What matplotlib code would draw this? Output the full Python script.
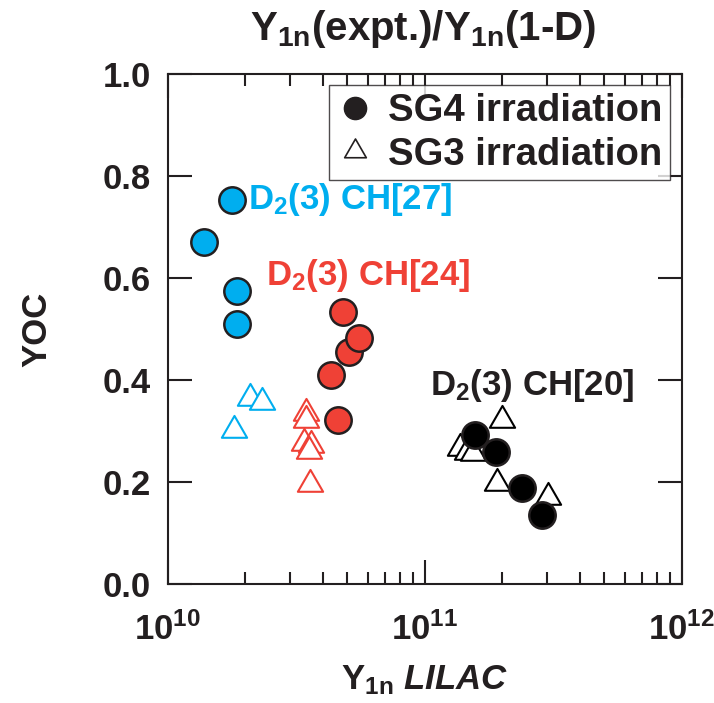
import matplotlib as mpl
import matplotlib.pyplot as plt
from matplotlib.path import Path
from matplotlib.lines import Line2D

mpl.rcParams['font.family'] = 'Liberation Sans'
mpl.rcParams['font.weight'] = 'bold'
mpl.rcParams['mathtext.fontset'] = 'custom'
mpl.rcParams['mathtext.rm'] = 'Liberation Sans:bold'
mpl.rcParams['mathtext.bf'] = 'Liberation Sans:bold'
mpl.rcParams['mathtext.it'] = 'Liberation Sans:italic:bold'

# CH[27] (blue)
ch27_sg4_x = [1.78e10, 1.38e10, 1.86e10, 1.86e10]
ch27_sg4_y = [0.753, 0.670, 0.575, 0.510]
ch27_sg3_x = [2.08e10, 2.32e10, 1.81e10]
ch27_sg3_y = [0.364, 0.357, 0.302]

# CH[24] (red)
ch24_sg4_x = [4.81e10, 5.08e10, 5.55e10, 4.31e10, 4.60e10]
ch24_sg4_y = [0.534, 0.454, 0.483, 0.410, 0.322]
ch24_sg3_x = [3.44e10, 3.46e10, 3.38e10, 3.62e10, 3.54e10, 3.59e10]
ch24_sg3_y = [0.335, 0.322, 0.277, 0.273, 0.261, 0.197]

# CH[20] (black)
ch20_sg4_x = [1.57e11, 1.89e11, 2.38e11, 2.85e11]
ch20_sg4_y = [0.292, 0.259, 0.188, 0.135]
ch20_sg3_x = [2.00e11, 1.37e11, 1.46e11, 1.54e11, 1.91e11, 3.01e11]
ch20_sg3_y = [0.322, 0.267, 0.259, 0.257, 0.198, 0.171]

blue = '#00AEEF'
red = '#EF4136'
ink = '#231F20'

# equilateral triangle marker
tri = Path([(0, 1), (-0.866, -0.5), (0.866, -0.5), (0, 1)], closed=True)

fig = plt.figure(figsize=(7.14, 7.03), dpi=100)
ax = fig.add_axes([0.235, 0.169, 0.72, 0.726])

groups = [
    (ch27_sg3_x, ch27_sg3_y, ch27_sg4_x, ch27_sg4_y, blue),
    (ch24_sg3_x, ch24_sg3_y, ch24_sg4_x, ch24_sg4_y, red),
    (ch20_sg3_x, ch20_sg3_y, ch20_sg4_x, ch20_sg4_y, 'black'),
]
for x3, y3, x4, y4, c in groups:
    ax.plot(x3, y3, linestyle='none', marker=tri, ms=21, mfc='white',
            mec=c, mew=1.5)
    ax.plot(x4, y4, linestyle='none', marker='o', ms=19, mfc=c,
            mec=ink, mew=1.8)

ax.set_xscale('log')
ax.set_xlim(1e10, 1e12)
ax.set_ylim(0, 1)
ax.set_xticks([1e10, 1e11, 1e12])
ax.set_xticklabels([r'$\mathbf{10^{10}}$', r'$\mathbf{10^{11}}$', r'$\mathbf{10^{12}}$'])
ax.set_yticks([0, 0.2, 0.4, 0.6, 0.8, 1.0])
ax.set_yticklabels(['0.0', '0.2', '0.4', '0.6', '0.8', '1.0'])
ax.tick_params(which='both', direction='in', top=True, right=True,
               width=1.5, color=ink, labelsize=25, labelcolor=ink)
ax.tick_params(which='major', length=17, pad=12)
ax.tick_params(which='minor', length=8.5)
ax.tick_params(axis='x', which='major', pad=20)
ax.minorticks_on()
ax.yaxis.set_minor_locator(mpl.ticker.NullLocator())
for s in ax.spines.values():
    s.set_linewidth(1.5)
    s.set_color(ink)

ax.text(2.05e10, 0.753, r'$\mathbf{D_2}$(3) CH[27]', color=blue, fontsize=25,
        va='center', ha='left')
ax.text(2.4e10, 0.605, r'$\mathbf{D_2}$(3) CH[24]', color=red, fontsize=25,
        va='center', ha='left')
ax.text(1.05e11, 0.39, r'$\mathbf{D_2}$(3) CH[20]', color=ink, fontsize=25,
        va='center', ha='left')

fig.suptitle(r'$\mathbf{Y_{1n}}$(expt.)/$\mathbf{Y_{1n}}$(1-D)', x=0.592, y=0.988,
             fontsize=29, fontweight='bold', color=ink)
ax.set_xlabel(r'$\mathbf{Y_{1n}}$ $\mathit{LILAC}$', fontsize=25, color=ink,
              fontweight='bold')
ax.xaxis.set_label_coords(0.5, -0.155)
ax.set_ylabel('YOC', fontsize=25, color=ink, fontweight='bold')
ax.yaxis.set_label_coords(-0.222, 0.5)

handles = [
    Line2D([], [], linestyle='none', marker='o', ms=16, mfc=ink, mec=ink),
    Line2D([], [], linestyle='none', marker=tri, ms=18, mfc='white', mec=ink, mew=1.2),
]
leg = ax.legend(handles, ['SG4 irradiation', 'SG3 irradiation'], loc='upper right',
                fontsize=27.5, frameon=True, fancybox=False, edgecolor=ink,
                handlelength=0.95, handletextpad=0.4, borderpad=0.2,
                labelspacing=0.2, borderaxespad=0.3)
leg.get_frame().set_linewidth(1.0)
for t in leg.get_texts():
    t.set_color(ink)

fig.savefig('out.png', dpi=100)
